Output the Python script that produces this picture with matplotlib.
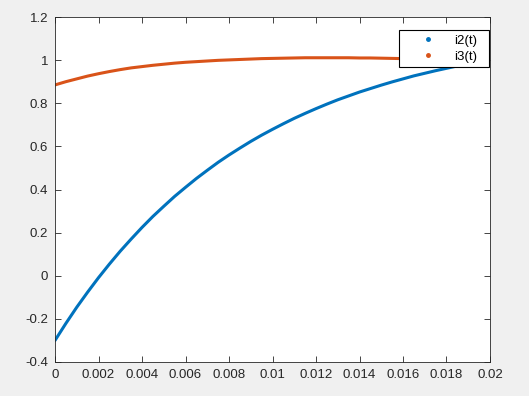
import numpy as np
import matplotlib
matplotlib.use('Agg')
from matplotlib import pyplot as plt
from matplotlib.lines import Line2D
from matplotlib.ticker import FuncFormatter

plt.rcParams['font.family'] = ['Liberation Sans', 'DejaVu Sans']

# time samples (s), every 0.5 ms
t = [0.0000, 0.0005, 0.0010, 0.0015, 0.0020, 0.0025, 0.0030, 0.0035, 0.0040, 0.0045,
     0.0050, 0.0055, 0.0060, 0.0065, 0.0070, 0.0075, 0.0080, 0.0085, 0.0090, 0.0095,
     0.0100, 0.0105, 0.0110, 0.0115, 0.0120, 0.0125, 0.0130, 0.0135, 0.0140, 0.0145,
     0.0150, 0.0155, 0.0160, 0.0165, 0.0170, 0.0175, 0.0180, 0.0185, 0.0190, 0.0195,
     0.0200]
# currents
i2 = [-0.300, -0.221, -0.146, -0.076, -0.009, 0.054, 0.114, 0.170, 0.224, 0.275,
      0.322, 0.368, 0.410, 0.451, 0.489, 0.526, 0.560, 0.592, 0.623, 0.652,
      0.679, 0.705, 0.730, 0.753, 0.775, 0.796, 0.816, 0.834, 0.852, 0.868,
      0.884, 0.899, 0.913, 0.927, 0.939, 0.951, 0.962, 0.973, 0.983, 0.993,
      1.002]
i3 = [0.885, 0.900, 0.913, 0.926, 0.937, 0.947, 0.956, 0.964, 0.970, 0.976,
      0.981, 0.986, 0.990, 0.993, 0.996, 0.999, 1.001, 1.003, 1.005, 1.007,
      1.008, 1.009, 1.010, 1.011, 1.011, 1.011, 1.011, 1.011, 1.010, 1.010,
      1.009, 1.008, 1.007, 1.006, 1.004, 1.003, 1.001, 1.000, 0.998, 0.997,
      0.995]

xticks = [0, 0.002, 0.004, 0.006, 0.008, 0.01, 0.012, 0.014, 0.016, 0.018, 0.02]
yticks = [-0.4, -0.2, 0, 0.2, 0.4, 0.6, 0.8, 1, 1.2]

blue = '#0072BD'
orange = '#D95319'
axcol = '#262626'

fig = plt.figure(figsize=(5.29, 3.96), dpi=100, facecolor='#F0F0F0')
ax = fig.add_axes([55/529, 1-362/396, 435/529, 345/396])

ax.plot(t, i2, color=blue, linewidth=2.2, solid_capstyle='round')
ax.plot(t, i3, color=orange, linewidth=2.2, solid_capstyle='round')

ax.set_xlim(0, 0.02)
ax.set_ylim(-0.4, 1.2)
ax.set_xticks(xticks)
ax.set_yticks(yticks)
fmt = FuncFormatter(lambda v, p: '%g' % round(v, 4))
ax.xaxis.set_major_formatter(fmt)
ax.yaxis.set_major_formatter(fmt)
ax.tick_params(direction='in', length=4, width=0.6, colors=axcol, labelsize=9.5,
               top=True, right=True, labelcolor=axcol, pad=5)
for s in ax.spines.values():
    s.set_color(axcol)
    s.set_linewidth(0.6)

# legend: dots only, square black box in the top right corner
handles = [Line2D([], [], color=blue, marker='.', linestyle='none', markersize=5),
           Line2D([], [], color=orange, marker='.', linestyle='none', markersize=5)]
leg = ax.legend(handles, ['i2(t)', 'i3(t)'], loc='upper left',
                bbox_to_anchor=(0.791, 0.962, 0.207, 0.0), mode='expand',
                fontsize=9.5, frameon=True, fancybox=False, edgecolor='black',
                handlelength=3.8, borderpad=0.32, labelspacing=0.3, handletextpad=0.05,
                borderaxespad=0)
leg.get_frame().set_linewidth(0.8)
leg.get_frame().set_alpha(1)

fig.savefig('out.png', dpi=100, facecolor=fig.get_facecolor())
